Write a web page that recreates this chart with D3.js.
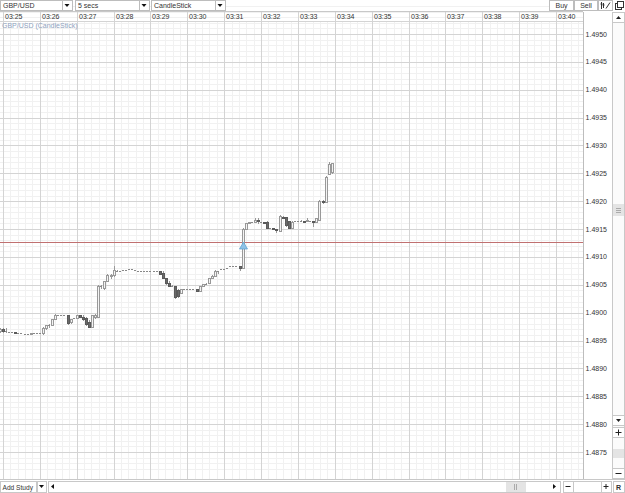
<!DOCTYPE html>
<html>
<head>
<meta charset="utf-8">
<script src="https://cdn.jsdelivr.net/npm/d3@7"></script>
<style>
  body { margin: 0; background: #fff; }
  svg { display: block; font-family: "Liberation Sans", Arial, sans-serif; }
  text { font-size: 7px; fill: #333; }
</style>
</head>
<body>
<div id="chart"></div>
<script>
// 5 second GBP/USD candles, starting 03:24:55
const candleStart = new Date(2013, 0, 1, 3, 24, 55);
const candleSecs = 5;

const opens = [
  1.48968, 1.48971, 1.48968, 1.48966, 1.48966, 1.48966, 1.48964, 1.48964, 1.48962, 1.48962,
  1.48962, 1.48964, 1.48964, 1.48964, 1.48964, 1.48973, 1.48977, 1.48978, 1.48989, 1.48995,
  1.48996, 1.48995, 1.48995, 1.48984, 1.48991, 1.48991, 1.48995, 1.48993, 1.48991, 1.48984,
  1.48975, 1.48993, 1.48993, 1.49047, 1.49045, 1.49056, 1.49066, 1.49068, 1.49074, 1.49075,
  1.49077, 1.49077, 1.49079, 1.49079, 1.49077, 1.49075, 1.49075, 1.49075, 1.49075, 1.49075,
  1.49075, 1.49074, 1.49074, 1.49072, 1.49063, 1.49054, 1.49048, 1.49048, 1.49041, 1.49036,
  1.49043, 1.49043, 1.49043, 1.49043, 1.49043, 1.49039, 1.49048, 1.49052, 1.49054, 1.49063,
  1.49066, 1.49074, 1.49079, 1.49079, 1.49081, 1.49083, 1.49083, 1.49083, 1.49083, 1.49081,
  1.49151, 1.49160, 1.49163, 1.49163, 1.49167, 1.49163, 1.49163, 1.49163, 1.49152, 1.49152,
  1.49151, 1.49147, 1.49172, 1.49172, 1.49165, 1.49152, 1.49165, 1.49165, 1.49165, 1.49165,
  1.49165, 1.49165, 1.49165, 1.49163, 1.49167, 1.49201, 1.49199, 1.49248, 1.49253
];
const highs = [
  1.48973, 1.48973, 1.48973, 1.48966, 1.48966, 1.48966, 1.48964, 1.48964, 1.48962, 1.48962,
  1.48964, 1.48964, 1.48964, 1.48964, 1.48975, 1.48977, 1.48980, 1.48989, 1.48998, 1.48996,
  1.48996, 1.48995, 1.48996, 1.48989, 1.48991, 1.48995, 1.48996, 1.48996, 1.48993, 1.48987,
  1.48996, 1.48998, 1.49050, 1.49050, 1.49056, 1.49070, 1.49070, 1.49083, 1.49077, 1.49075,
  1.49077, 1.49077, 1.49079, 1.49079, 1.49077, 1.49075, 1.49075, 1.49075, 1.49075, 1.49075,
  1.49075, 1.49074, 1.49075, 1.49074, 1.49063, 1.49056, 1.49050, 1.49048, 1.49043, 1.49043,
  1.49043, 1.49043, 1.49043, 1.49043, 1.49043, 1.49048, 1.49052, 1.49054, 1.49063, 1.49068,
  1.49077, 1.49075, 1.49079, 1.49079, 1.49081, 1.49083, 1.49083, 1.49083, 1.49083, 1.49152,
  1.49161, 1.49163, 1.49163, 1.49169, 1.49169, 1.49163, 1.49163, 1.49165, 1.49152, 1.49152,
  1.49151, 1.49176, 1.49174, 1.49172, 1.49165, 1.49165, 1.49165, 1.49165, 1.49167, 1.49165,
  1.49169, 1.49165, 1.49165, 1.49170, 1.49203, 1.49203, 1.49246, 1.49271, 1.49269
];
const lows = [
  1.48966, 1.48966, 1.48966, 1.48966, 1.48966, 1.48964, 1.48964, 1.48964, 1.48962, 1.48962,
  1.48962, 1.48964, 1.48964, 1.48964, 1.48962, 1.48971, 1.48975, 1.48978, 1.48989, 1.48995,
  1.48996, 1.48995, 1.48980, 1.48982, 1.48991, 1.48991, 1.48993, 1.48987, 1.48978, 1.48975,
  1.48975, 1.48991, 1.48993, 1.49045, 1.49043, 1.49056, 1.49063, 1.49066, 1.49074, 1.49075,
  1.49077, 1.49077, 1.49079, 1.49079, 1.49077, 1.49075, 1.49075, 1.49075, 1.49075, 1.49075,
  1.49075, 1.49074, 1.49070, 1.49063, 1.49052, 1.49048, 1.49048, 1.49027, 1.49029, 1.49036,
  1.49043, 1.49043, 1.49043, 1.49043, 1.49038, 1.49039, 1.49048, 1.49052, 1.49054, 1.49063,
  1.49066, 1.49072, 1.49079, 1.49079, 1.49081, 1.49083, 1.49083, 1.49083, 1.49077, 1.49081,
  1.49151, 1.49160, 1.49163, 1.49163, 1.49161, 1.49163, 1.49161, 1.49152, 1.49152, 1.49151,
  1.49145, 1.49147, 1.49169, 1.49156, 1.49152, 1.49152, 1.49165, 1.49165, 1.49165, 1.49163,
  1.49165, 1.49165, 1.49156, 1.49163, 1.49167, 1.49196, 1.49199, 1.49248, 1.49251
];
const closes = [
  1.48971, 1.48968, 1.48968, 1.48966, 1.48966, 1.48964, 1.48964, 1.48964, 1.48962, 1.48962,
  1.48964, 1.48964, 1.48964, 1.48964, 1.48973, 1.48977, 1.48978, 1.48989, 1.48995, 1.48995,
  1.48996, 1.48995, 1.48982, 1.48989, 1.48991, 1.48995, 1.48993, 1.48989, 1.48980, 1.48975,
  1.48995, 1.48996, 1.49047, 1.49048, 1.49056, 1.49068, 1.49068, 1.49077, 1.49075, 1.49075,
  1.49077, 1.49077, 1.49079, 1.49079, 1.49077, 1.49075, 1.49075, 1.49075, 1.49075, 1.49075,
  1.49075, 1.49074, 1.49070, 1.49063, 1.49054, 1.49048, 1.49048, 1.49029, 1.49030, 1.49043,
  1.49043, 1.49043, 1.49043, 1.49043, 1.49039, 1.49048, 1.49052, 1.49052, 1.49063, 1.49066,
  1.49075, 1.49074, 1.49079, 1.49079, 1.49081, 1.49083, 1.49083, 1.49083, 1.49081, 1.49151,
  1.49160, 1.49163, 1.49163, 1.49167, 1.49165, 1.49163, 1.49161, 1.49152, 1.49152, 1.49151,
  1.49149, 1.49174, 1.49169, 1.49158, 1.49152, 1.49163, 1.49165, 1.49165, 1.49165, 1.49163,
  1.49167, 1.49165, 1.49163, 1.49169, 1.49201, 1.49199, 1.49244, 1.49267, 1.49269
];

const priceTicks = [1.4875, 1.4880, 1.4885, 1.4890, 1.4895, 1.4900, 1.4905, 1.4910,
                    1.4915, 1.4920, 1.4925, 1.4930, 1.4935, 1.4940, 1.4945, 1.4950];
const tradeLevel = 1.49127;   // red horizontal line + buy marker
const tradeIndex = 79;

const width = 625, height = 493;
const plot = { left: 0, right: 583, top: 21, bottom: 479 };

const svg = d3.select('#chart').append('svg')
    .attr('width', width)
    .attr('height', height);

const x = d3.scaleTime()
    .domain([new Date(2013, 0, 1, 3, 25), new Date(2013, 0, 1, 3, 40)])
    .range([3, 556]);

const y = d3.scaleLinear()
    .domain([1.4875, 1.4950])
    .range([452, 34]);

const candles = opens.map((o, i) => ({
    t: new Date(candleStart.getTime() + i * candleSecs * 1000),
    o: o, h: highs[i], l: lows[i], c: closes[i]
}));

const crisp = v => Math.round(v) + 0.5;
const bodyTop = d => Math.round(y(Math.max(d.o, d.c)));
const bodyBottom = d => Math.round(y(Math.min(d.o, d.c)));

// ---- plot background + grids
svg.append('defs').append('clipPath').attr('id', 'plot-clip')
  .append('rect')
    .attr('x', plot.left).attr('y', plot.top)
    .attr('width', plot.right - plot.left).attr('height', plot.bottom - plot.top);

const gridGroup = svg.append('g');

// minor grid (12s / 1 pip)
const minorTimes = d3.timeSecond.every(12).range(new Date(2013, 0, 1, 3, 24), new Date(2013, 0, 1, 3, 41));
gridGroup.selectAll('.minor-x')
    .data(minorTimes)
    .enter().append('line')
    .attr('x1', d => crisp(x(d))).attr('x2', d => crisp(x(d)))
    .attr('y1', plot.top).attr('y2', plot.bottom)
    .attr('stroke', '#f1f1f1');

const minorPrices = d3.range(1.4872, 1.4956, 0.0001);
gridGroup.selectAll('.minor-y')
    .data(minorPrices)
    .enter().append('line')
    .attr('x1', plot.left).attr('x2', plot.right)
    .attr('y1', d => crisp(y(d))).attr('y2', d => crisp(y(d)))
    .attr('stroke', '#f1f1f1');

// major price grid
gridGroup.selectAll('.major-y')
    .data(priceTicks)
    .enter().append('line')
    .attr('x1', plot.left).attr('x2', plot.right)
    .attr('y1', d => crisp(y(d))).attr('y2', d => crisp(y(d)))
    .attr('stroke', '#d4d4d4');

// time header row
svg.append('line').attr('x1', 0).attr('x2', plot.right).attr('y1', 11.5).attr('y2', 11.5).attr('stroke', '#c8c8c8');
svg.append('line').attr('x1', 0).attr('x2', plot.right).attr('y1', 21.5).attr('y2', 21.5).attr('stroke', '#d4d4d4');

const minuteTicks = x.ticks(d3.timeMinute.every(1));
gridGroup.selectAll('.major-x')
    .data(minuteTicks)
    .enter().append('line')
    .attr('x1', d => crisp(x(d))).attr('x2', d => crisp(x(d)))
    .attr('y1', 12).attr('y2', plot.bottom)
    .attr('stroke', '#d4d4d4');

svg.append('g').selectAll('text')
    .data(minuteTicks)
    .enter().append('text')
    .attr('x', d => Math.round(x(d)) + 2)
    .attr('y', 19)
    .text(d3.timeFormat('%H:%M'));

svg.append('text')
    .attr('x', 2).attr('y', 28)
    .style('fill', '#8fa3c0')
    .text('GBP/USD (CandleStick)');

// trade level line
svg.append('line')
    .attr('x1', plot.left).attr('x2', plot.right)
    .attr('y1', crisp(y(tradeLevel))).attr('y2', crisp(y(tradeLevel)))
    .attr('stroke', '#c07070');

// ---- candles
const candleGroup = svg.append('g').attr('clip-path', 'url(#plot-clip)');

candleGroup.selectAll('.wick')
    .data(candles.filter(d => d.h > Math.max(d.o, d.c) || d.l < Math.min(d.o, d.c)))
    .enter().append('line')
    .attr('x1', d => crisp(x(d.t))).attr('x2', d => crisp(x(d.t)))
    .attr('y1', d => Math.round(y(d.h))).attr('y2', d => Math.round(y(d.l)) + 1)
    .attr('stroke', '#999');

// candles with a real body
candleGroup.selectAll('.body')
    .data(candles.filter(d => bodyBottom(d) - bodyTop(d) >= 1))
    .enter().append('rect')
    .attr('x', d => crisp(x(d.t)) - 1)
    .attr('y', d => bodyTop(d) + 0.5)
    .attr('width', 2)
    .attr('height', d => bodyBottom(d) - bodyTop(d))
    .attr('fill', d => d.c < d.o ? '#6a6a6a' : '#f4f4f4')
    .attr('stroke', d => d.c < d.o ? '#5a5a5a' : '#999');

// open == close: short dash
candleGroup.selectAll('.flat')
    .data(candles.filter(d => bodyBottom(d) - bodyTop(d) < 1))
    .enter().append('line')
    .attr('x1', d => Math.round(x(d.t)) - 1).attr('x2', d => Math.round(x(d.t)) + 1)
    .attr('y1', d => bodyTop(d) + 0.5).attr('y2', d => bodyTop(d) + 0.5)
    .attr('stroke', '#888');

// buy marker
const mx = crisp(x(candles[tradeIndex].t)), my = Math.round(y(tradeLevel));
svg.append('path')
    .attr('d', `M${mx},${my} L${mx + 4},${my + 7} L${mx - 4},${my + 7} Z`)
    .attr('fill', '#8ec2e6')
    .attr('stroke', '#5a9fd0')
    .attr('stroke-width', 0.7);

// ---- right price axis
svg.append('rect')
    .attr('x', plot.right).attr('y', 12).attr('width', 29).attr('height', plot.bottom - 12)
    .attr('fill', '#fff');
svg.append('line')
    .attr('x1', plot.right + 0.5).attr('x2', plot.right + 0.5)
    .attr('y1', 12).attr('y2', plot.bottom)
    .attr('stroke', '#bdbdbd');

svg.append('g').selectAll('text')
    .data(priceTicks)
    .enter().append('text')
    .attr('x', 607)
    .attr('y', d => y(d) + 2.5)
    .attr('text-anchor', 'end')
    .text(d => d3.format('.4f')(d));

// ---- vertical scrollbar
const vs = svg.append('g');
vs.append('rect').attr('x', 612.5).attr('y', 12.5).attr('width', 12).attr('height', 466)
    .attr('fill', '#fbfbfb').attr('stroke', '#c8c8c8');
function button(g, bx, by, bw, bh) {
    g.append('rect').attr('x', bx + 0.5).attr('y', by + 0.5).attr('width', bw).attr('height', bh)
        .attr('fill', '#fff').attr('stroke', '#c8c8c8');
}
button(vs, 612, 12, 12, 10);
vs.append('path').attr('d', 'M616,19 L621,19 L618.5,16 Z').attr('fill', '#222');
vs.append('rect').attr('x', 613).attr('y', 204).attr('width', 11).attr('height', 12).attr('fill', '#e4e4e4');
vs.append('path').attr('d', 'M616,208.5 H621 M616,210.5 H621 M616,212.5 H621').attr('stroke', '#aaa');
button(vs, 612, 415, 12, 10);
vs.append('path').attr('d', 'M616,419 L621,419 L618.5,422 Z').attr('fill', '#222');
button(vs, 612, 427, 12, 10);
vs.append('path').attr('d', 'M615.5,432.5 H621.5 M618.5,429.5 V435.5').attr('stroke', '#222');
vs.append('rect').attr('x', 613).attr('y', 449).attr('width', 11).attr('height', 9).attr('fill', '#e4e4e4');
button(vs, 612, 468, 12, 10);
vs.append('path').attr('d', 'M615.5,473.5 H621.5').attr('stroke', '#222');

// ---- top toolbar
const tb = svg.append('g');
function dropdown(bx, bw, label) {
    tb.append('rect').attr('x', bx + 0.5).attr('y', 0.5).attr('width', bw).attr('height', 10)
        .attr('fill', '#fff').attr('stroke', '#bdbdbd');
    tb.append('rect').attr('x', bx + bw - 10 + 0.5).attr('y', 0.5).attr('width', 10).attr('height', 10)
        .attr('fill', '#fff').attr('stroke', '#bdbdbd');
    tb.append('path')
        .attr('d', `M${bx + bw - 7.5},4 L${bx + bw - 2.5},4 L${bx + bw - 5},7 Z`)
        .attr('fill', '#111');
    tb.append('text').attr('x', bx + 3).attr('y', 8).text(label);
}
dropdown(0, 72, 'GBP/USD');
dropdown(75, 74, '5 secs');
dropdown(151, 74, 'CandleStick');

function textButton(bx, bw, label) {
    tb.append('rect').attr('x', bx + 0.5).attr('y', 0.5).attr('width', bw).attr('height', 10)
        .attr('fill', '#fff').attr('stroke', '#bdbdbd');
    tb.append('text').attr('x', bx + bw / 2 + 0.5).attr('y', 8).attr('text-anchor', 'middle').text(label);
}
textButton(549, 24, 'Buy');
textButton(574, 23, 'Sell');
tb.append('rect').attr('x', 598.5).attr('y', 0.5).attr('width', 14).attr('height', 10)
    .attr('fill', '#fff').attr('stroke', '#bdbdbd');
tb.append('path').attr('d', 'M601.5,2 V9 M603.5,3 V8 M600.5,4 H602.5 M602.5,5 H604.5 M606,8.5 L610,2.5')
    .attr('stroke', '#333').attr('fill', 'none');
tb.append('rect').attr('x', 615.5).attr('y', 3.5).attr('width', 6).attr('height', 6)
    .attr('fill', '#fff').attr('stroke', '#333');
tb.append('rect').attr('x', 617.5).attr('y', 1.5).attr('width', 6).attr('height', 6)
    .attr('fill', '#fff').attr('stroke', '#333');

// ---- bottom bar
const bb = svg.append('g');
bb.append('line').attr('x1', 0).attr('x2', width).attr('y1', 479.5).attr('y2', 479.5).attr('stroke', '#c8c8c8');
function box(bx, by, bw, bh, fill) {
    bb.append('rect').attr('x', bx + 0.5).attr('y', by + 0.5).attr('width', bw).attr('height', bh)
        .attr('fill', fill || '#fff').attr('stroke', '#c8c8c8');
}
box(0, 481, 36, 11);
bb.append('text').attr('x', 2.5).attr('y', 489.5).style('font-size', '6.6px').text('Add Study');
box(37, 481, 9, 11);
bb.append('path').attr('d', 'M39,485 L44,485 L41.5,488 Z').attr('fill', '#111');
box(48, 481, 512, 11);
bb.append('path').attr('d', 'M54,484 L54,489 L51,486.5 Z').attr('fill', '#111');
bb.append('rect').attr('x', 506).attr('y', 482).attr('width', 20).attr('height', 10).attr('fill', '#e4e4e4');
bb.append('path').attr('d', 'M514.5,484 V490 M516.5,484 V490').attr('stroke', '#aaa');
bb.append('path').attr('d', 'M553,484 L553,489 L556,486.5 Z').attr('fill', '#111');
box(563, 481, 10, 11);
bb.append('path').attr('d', 'M565.5,486.5 H570.5').attr('stroke', '#222');
box(573, 481, 28, 11);
box(601, 481, 10, 11);
bb.append('path').attr('d', 'M603.5,486.5 H608.5 M606,484 V489').attr('stroke', '#222');
box(613, 481, 11, 11);
bb.append('text').attr('x', 618.5).attr('y', 490).attr('text-anchor', 'middle')
    .style('font-weight', 'bold').text('R');
</script>
</body>
</html>
